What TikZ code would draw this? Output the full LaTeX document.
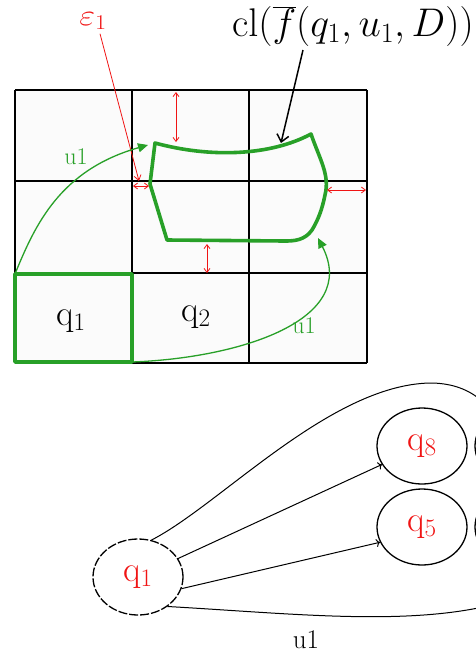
\RequirePackage{fix-cm}
\documentclass[tikz,border=0pt]{standalone}
\usetikzlibrary{arrows.meta,shapes.geometric}
\definecolor{blobgreen}{RGB}{40,160,40}
\definecolor{epsred}{RGB}{240,20,20}
\newcommand\cellfont{\fontsize{36}{40}\selectfont}
\newcommand\labfont{\fontsize{24}{28}\selectfont}
\tikzset{
  cellline/.style={line width=1.4pt},
  blob/.style={draw=blobgreen,line width=3.6pt,line join=round},
  flow/.style={draw=blobgreen,line width=1.3pt,-{Triangle[length=10pt,width=9pt]}},
  gap/.style={draw=epsred,line width=0.8pt,{Straight Barb[length=4pt,width=6pt]}-{Straight Barb[length=4pt,width=6pt]}},
  state/.style={ellipse,draw,line width=1.3pt,minimum width=90pt,minimum height=76pt,inner sep=0pt,text=epsred,font=\cellfont},
  edge/.style={line width=1pt},
}
\begin{document}
\begin{tikzpicture}[x=1pt,y=-1pt]
  \useasboundingbox (0,0) rectangle (476,657);
  \clip (0,0) rectangle (476,657);
  % grid of cells
  \fill[gray!3] (15,90) rectangle (367,363);
  \foreach \x in {15,132,249,367} \draw[cellline] (\x,90) -- (\x,363);
  \foreach \y in {90,181,273,363} \draw[cellline] (15,\y) -- (367,\y);
  \draw[blob] (15,274) rectangle (132,362);
  \node[font=\cellfont] (c1) at (71,321) {q$_1$};
  \node[font=\cellfont] (c2) at (196,317) {q$_2$};
  % image of the cell
  \draw[blob] (155,143) .. controls (210,158) and (270,156) .. (311,134)
    .. controls (320,160) and (330,175) .. (325,195)
    .. controls (322,210) and (318,220) .. (312,230)
    .. controls (305,240) and (295,241) .. (285,241)
    -- (167,240) -- (150,184) -- cycle;
  % margins
  \draw[gap] (176,92) -- (176,142);
  \draw[gap] (133,186) -- (149,186);
  \draw[gap] (327,190) -- (366,190);
  \draw[gap] (207,244) -- (207,273);
  \node[text=epsred,font=\fontsize{30}{34}\selectfont,inner sep=0pt,anchor=base,xscale=1.15] (eps) at (93,25) {$\varepsilon_1$};
  \coordinate (epstip) at (139,181);
  \draw[draw=epsred,line width=0.8pt,-{Straight Barb[length=5pt,width=7pt]}] ([xshift=7pt,yshift=-4pt]eps.south) -- (epstip);
  \node[anchor=base west,font=\fontsize{40}{46}\selectfont,inner sep=0pt] (cl) at (232,36) {$\mathrm{cl}(\overline{f}(q_1,u_1,D))$};
  \coordinate (cltail) at (303,50);
  \coordinate (clhead) at (281,143);
  \draw[line width=1.5pt,-{Straight Barb[length=7pt,width=12pt]}] (cltail) -- (clhead);
  % u1 moves
  \draw[flow] (15,274) .. controls (35,225) and (60,170) .. (148,145);
  \draw[flow] (132,362) .. controls (240,358) and (360,320) .. (318,238);
  \node[text=blobgreen,font=\labfont] (ua) at (76,157) {u1};
  \node[text=blobgreen,font=\labfont] (ub) at (304,326) {u1};
  % abstraction graph
  \node[state,dash pattern=on 9pt off 2pt] (s1) at (138,577) {q$_1$};
  \node[state] (s8) at (422,446) {q$_8$};
  \node[state] (s5) at (422,527) {q$_5$};
  \node[state] (s8r) at (520,446) {};
  \node[state] (s5r) at (520,527) {};
  \draw[edge,->] (s1) -- (s8);
  \draw[edge,->] (s1.-15) -- (s5.200);
  \coordinate (toptail) at (505,440);
  \coordinate (bottail) at (510,600);
  \draw[edge] (s1.70) .. controls (220,505) and (330,385) .. (430,383)
    .. controls (470,383) and (495,405) .. (toptail);
  \draw[edge] (s1.-45) .. controls (300,614) and (420,628) .. (bottail);
  \node[font=\fontsize{27}{30}\selectfont] (ul) at (306,640) {u1};
\end{tikzpicture}
\end{document}
